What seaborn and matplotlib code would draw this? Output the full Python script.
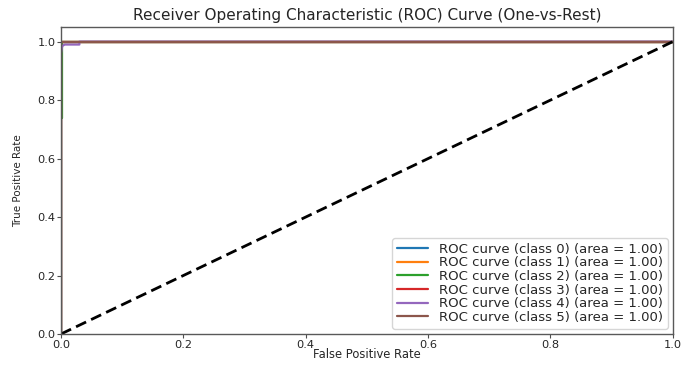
import numpy as np
import pandas as pd
import seaborn as sns
import matplotlib
matplotlib.use("Agg")
import matplotlib.pyplot as plt

class_names = ["class 0", "class 1", "class 2", "class 3", "class 4", "class 5"]
auc_values = [1.00, 1.00, 1.00, 1.00, 1.00, 1.00]
colors = ["#1f77b4", "#ff7f0e", "#2ca02c", "#d62728", "#9467bd", "#8c564b"]

fpr_0 = [0.0, 0.0, 0.0, 1.0]
tpr_0 = [0.0, 0.97, 1.0, 1.0]
fpr_1 = [0.0, 0.0, 0.0, 1.0]
tpr_1 = [0.0, 0.98, 1.0, 1.0]
fpr_2 = [0.0, 0.0, 0.002, 0.002, 1.0]
tpr_2 = [0.0, 0.74, 0.74, 1.0, 1.0]
fpr_3 = [0.0, 0.0, 0.0, 1.0]
tpr_3 = [0.0, 0.99, 1.0, 1.0]
fpr_4 = [0.0, 0.0, 0.002, 0.006, 0.03, 0.03, 1.0]
tpr_4 = [0.0, 0.96, 0.985, 0.99, 0.99, 1.0, 1.0]
fpr_5 = [0.0, 0.0, 0.0, 1.0]
tpr_5 = [0.0, 0.995, 1.0, 1.0]

fprs = [fpr_0, fpr_1, fpr_2, fpr_3, fpr_4, fpr_5]
tprs = [tpr_0, tpr_1, tpr_2, tpr_3, tpr_4, tpr_5]

diag_x = [0.0, 1.0]
diag_y = [0.0, 1.0]

sns.set_style("white")
plt.rcParams['font.family'] = ['DejaVu Sans']

fig = plt.figure(figsize=(6.81, 3.65), dpi=100)
ax = fig.add_axes([0.0896, 0.085, 0.8984, 0.841])

for i in range(len(class_names)):
    df = pd.DataFrame({"fpr": fprs[i], "tpr": tprs[i]})
    sns.lineplot(data=df, x="fpr", y="tpr", ax=ax, color=colors[i], lw=1.6,
                 sort=False, estimator=None,
                 label=f"ROC curve ({class_names[i]}) (area = {auc_values[i]:.2f})")

sns.lineplot(x=diag_x, y=diag_y, ax=ax, color="black", lw=2, linestyle=(0, (4, 2)))

ax.set_xlim(0.0, 1.0)
ax.set_ylim(0.0, 1.05)
ax.set_xticks([0.0, 0.2, 0.4, 0.6, 0.8, 1.0])
ax.set_yticks([0.0, 0.2, 0.4, 0.6, 0.8, 1.0])
ax.tick_params(axis="both", which="both", length=3, width=0.8, labelsize=8.2,
               pad=1.0, bottom=True, left=True, color="0.3", labelcolor="0.15")
ax.set_xlabel("False Positive Rate", fontsize=8.3, labelpad=-1.0, color="0.15")
ax.set_ylabel("True Positive Rate", fontsize=7.5, labelpad=10, color="0.15")
ax.set_title("Receiver Operating Characteristic (ROC) Curve (One-vs-Rest)",
             fontsize=11, pad=5, color="0.15")
for s in ax.spines.values():
    s.set_color("0.35")
    s.set_linewidth(1.0)

leg = ax.legend(loc="lower right", fontsize=9.5, frameon=True, handlelength=2.4,
                labelspacing=0.05, borderpad=0.35, borderaxespad=0.4)
leg.get_frame().set_edgecolor("0.8")
for t in leg.get_texts():
    t.set_color("0.15")

fig.savefig("out.png", dpi=100)
